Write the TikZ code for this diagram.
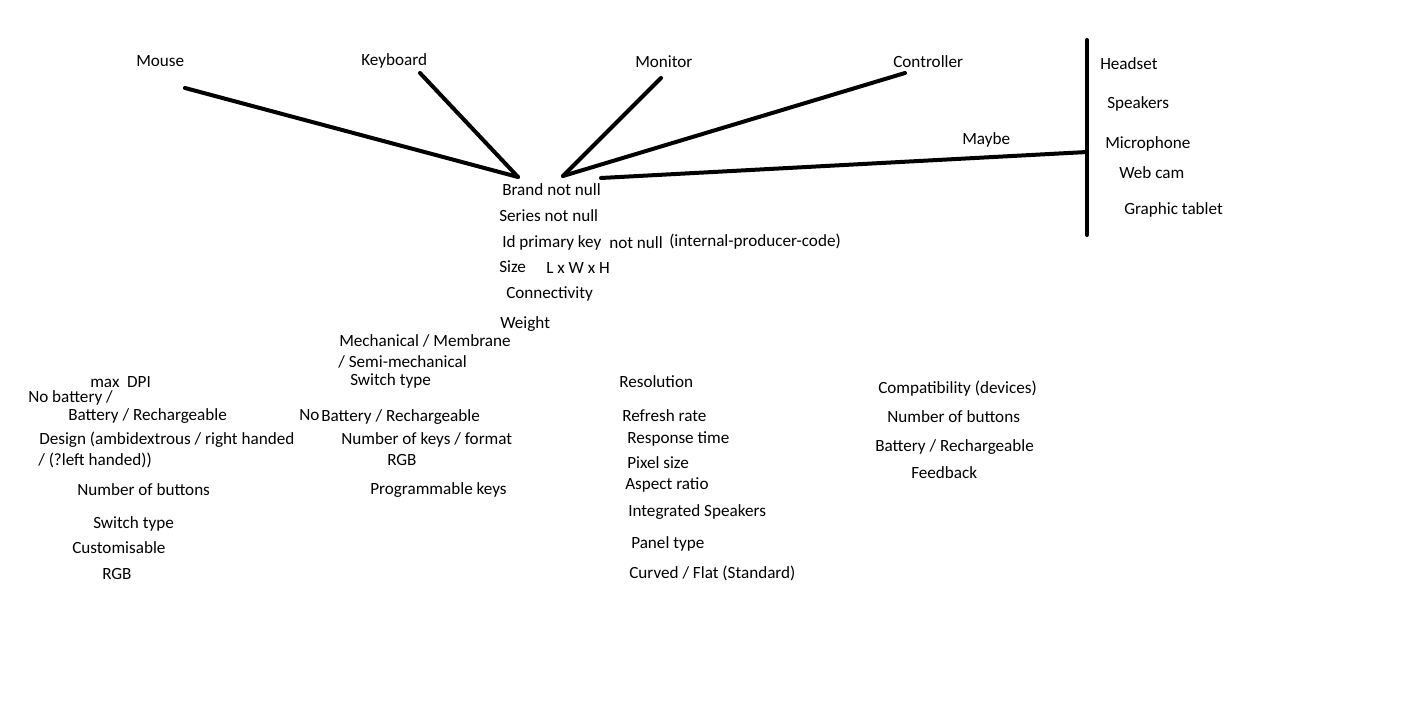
\documentclass[tikz,border=0pt]{standalone}
\usepackage{fontspec}
\setmainfont{Carlito}
\begin{document}
\begin{tikzpicture}[x=0.75pt,y=-0.75pt,
	txt/.style={anchor=base west,inner sep=0pt,yshift=-4pt,font=\fontsize{12.85}{15}\selectfont},
	bar/.style={line width=3pt,line cap=round}]
	\useasboundingbox (0,0) rectangle (1413,720);
	% devices
	\node [txt] (mouse) at (136,61) {Mouse};
	\node [txt] (keyboard) at (361,60) {Keyboard};
	\node [txt] (monitor) at (635,62) {Monitor};
	\node [txt] (controller) at (893,62) {Controller};
	\node [txt] (maybe) at (962,139) {Maybe};
	\coordinate (mousestart) at (185,88);
	\coordinate (keyboardstart) at (420,73);
	\coordinate (monitorstart) at (661,78);
	\coordinate (controllerstart) at (905,73);
	\coordinate (leftjoin) at (518,177);
	\coordinate (rightjoin) at (563,176);
	\coordinate (maybejoin) at (601,178);
	\coordinate (bartop) at (1087,40);
	\coordinate (barmid) at (1087,152);
	\coordinate (barbottom) at (1087,235);
	\draw [bar] (mousestart) -- (leftjoin);
	\draw [bar] (keyboardstart) -- (leftjoin);
	\draw [bar] (monitorstart) -- (rightjoin);
	\draw [bar] (controllerstart) -- (rightjoin);
	\draw [bar] (maybejoin) -- (barmid);
	\draw [bar] (bartop) -- (barbottom);
	\node [txt] (headset) at (1100,64) {Headset};
	\node [txt] (speakers) at (1107,103) {Speakers};
	\node [txt] (microphone) at (1105,143) {Microphone};
	\node [txt] (webcam) at (1119,173) {Web cam};
	\node [txt] (tablet) at (1124,209) {Graphic tablet};
	% common attributes
	\node [txt] (brand) at (502,190) {Brand not null};
	\node [txt] (series) at (499,216) {Series not null};
	\node [txt] (id) at (502,242) {Id primary key};
	\node [txt] (idnull) at (609,243) {not null};
	\node [txt] (idcode) at (669,241) {(internal-producer-code)};
	\node [txt] (size) at (499,267) {Size};
	\node [txt] (sizelwh) at (546,268) {L x W x H};
	\node [txt] (connectivity) at (506,293) {Connectivity};
	\node [txt] (weight) at (500,323) {Weight};
	% mouse
	\node [txt] (mousedpi) at (90,382) {max\ \ DPI};
	\node [txt] (mousenobat) at (28,397) {No battery /};
	\node [txt] (mousebat) at (68,415) {Battery / Rechargeable};
	\node [txt] (mousedesign) at (39,439) {Design (ambidextrous / right handed};
	\node [txt] (mousedesignb) at (38,460) {/ (?left handed))};
	\node [txt] (mousebuttons) at (77,490) {Number of buttons};
	\node [txt] (mouseswitch) at (93,523) {Switch type};
	\node [txt] (mousecustom) at (72,548) {Customisable};
	\node [txt] (mousergb) at (102,574) {RGB};
	% keyboard
	\node [txt] (kbmech) at (339,341) {Mechanical / Membrane};
	\node [txt] (kbsemi) at (338,362) {/ Semi-mechanical};
	\node [txt] (kbswitch) at (350,380) {Switch type};
	\node [txt] (kbno) at (299,415) {No};
	\node [txt] (kbbat) at (321,416) {Battery / Rechargeable};
	\node [txt] (kbkeys) at (341,439) {Number of keys / format};
	\node [txt] (kbrgb) at (387,460) {RGB};
	\node [txt] (kbprog) at (370,489) {Programmable keys};
	% monitor
	\node [txt] (monres) at (619,382) {Resolution};
	\node [txt] (monrefresh) at (622,416) {Refresh rate};
	\node [txt] (monresponse) at (627,438) {Response time};
	\node [txt] (monpixel) at (627,463) {Pixel size};
	\node [txt] (monaspect) at (625,484) {Aspect ratio};
	\node [txt] (monspeakers) at (628,511) {Integrated Speakers};
	\node [txt] (monpanel) at (631,543) {Panel type};
	\node [txt] (moncurved) at (629,573) {Curved / Flat (Standard)};
	% controller
	\node [txt] (ctrlcompat) at (878,388) {Compatibility (devices)};
	\node [txt] (ctrlbuttons) at (887,417) {Number of buttons};
	\node [txt] (ctrlbat) at (875,446) {Battery / Rechargeable};
	\node [txt] (ctrlfeedback) at (911,473) {Feedback};
\end{tikzpicture}
\end{document}
